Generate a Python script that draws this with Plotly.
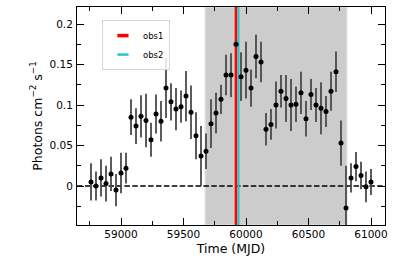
import plotly.graph_objects as go

# ---- data ----
t_start = 58760
bin_days = 40
flux = [0.005, 0.000, 0.010, 0.003, 0.015, -0.005, 0.016, 0.022,
        0.085, 0.074, 0.086, 0.081, 0.057, 0.089, 0.080, 0.121,
        0.104, 0.095, 0.098, 0.111, 0.091, 0.062, 0.037, 0.043,
        0.077, 0.090, 0.107, 0.137, 0.137, 0.175, 0.135, 0.143,
        0.121, 0.160, 0.153, 0.070, 0.076, 0.100, 0.117, 0.108,
        0.100, 0.101, 0.115, 0.083, 0.113, 0.100, 0.096, 0.092,
        0.117, 0.141, 0.053, -0.027, 0.010, 0.024, 0.013, -0.001, 0.005]
flux_err = [0.023, 0.018, 0.023, 0.022, 0.021, 0.020, 0.025, 0.019,
            0.022, 0.022, 0.026, 0.033, 0.021, 0.024, 0.025, 0.037,
            0.023, 0.026, 0.020, 0.031, 0.033, 0.029, 0.037, 0.022,
            0.030, 0.025, 0.018, 0.025, 0.027, 0.030, 0.030, 0.035,
            0.023, 0.027, 0.025, 0.020, 0.019, 0.029, 0.020, 0.029,
            0.032, 0.022, 0.026, 0.022, 0.019, 0.021, 0.032, 0.019,
            0.024, 0.025, 0.028, 0.052, 0.018, 0.018, 0.017, 0.019, 0.016]
mjd = [t_start + bin_days * i for i in range(len(flux))]

span_start, span_end = 59675, 60805
obs_names = ["obs1", "obs2"]
obs_times = [59920, 59940]
obs_colors = ["#ff0000", "#22c8c8"]
obs_widths = [2.6, 2.0]

x_range = [58648, 61112]
y_range = [-0.0481, 0.221]
x_ticks = [59000, 59500, 60000, 60500, 61000]
y_ticks = [0, 0.05, 0.1, 0.15, 0.2]
y_ticklabels = ["0", "0.05", "0.1", "0.15", "0.2"]

FONT = "DejaVu Sans"

fig = go.Figure()

# error bars (drawn first)
fig.add_trace(go.Scatter(
    x=mjd, y=flux, mode="markers",
    marker=dict(size=5, color="rgba(0,0,0,0)"),
    error_y=dict(type="data", array=flux_err, visible=True,
                 color="#4a4a4a", thickness=1.8, width=0),
    showlegend=False, hoverinfo="skip"))

# observation vertical lines
for name, t, c, w in zip(obs_names, obs_times, obs_colors, obs_widths):
    fig.add_trace(go.Scatter(
        x=[t, t], y=y_range, mode="lines",
        line=dict(color=c, width=w), showlegend=False, hoverinfo="skip"))

# data points on top
fig.add_trace(go.Scatter(
    x=mjd, y=flux, mode="markers",
    marker=dict(size=5, color="black"), showlegend=False))

# legend entries
for name, c, w in zip(obs_names, obs_colors, [3.5, 2.5]):
    fig.add_trace(go.Scatter(
        x=[None], y=[None], mode="markers", name=name,
        marker=dict(symbol="line-ew", size=8, color=c,
                    line=dict(color=c, width=w))))

# shaded interval
fig.add_shape(type="rect", xref="x", yref="paper",
              x0=span_start, x1=span_end, y0=0, y1=1,
              fillcolor="#cccccc", line=dict(color="#dcdcdc", width=1.5),
              layer="below")
# zero line
fig.add_shape(type="line", xref="paper", yref="y", x0=0, x1=1, y0=0, y1=0,
              line=dict(color="black", width=1.5, dash="5.5px,2.4px"),
              layer="below")

axis_common = dict(
    showgrid=False, zeroline=False, showline=True, linecolor="black",
    linewidth=1, mirror="ticks", ticks="inside", ticklen=7, tickwidth=1.2,
    tickcolor="black", tickfont=dict(family=FONT, size=10.5, color="black"),
    automargin=True,
)

fig.update_xaxes(
    **axis_common, range=x_range, tickmode="array", tickvals=x_ticks,
    ticktext=[str(v) for v in x_ticks],
    minor=dict(ticks="inside", dtick=250, tick0=0, ticklen=4,
               tickwidth=1.2, tickcolor="black"),
    ticklabelstandoff=-1,
    title=dict(text="Time (MJD)", font=dict(family=FONT, size=12.5,
                                            color="black"), standoff=5))
fig.update_yaxes(
    **axis_common, range=y_range, tickmode="array", tickvals=y_ticks,
    ticktext=y_ticklabels,
    minor=dict(ticks="inside", dtick=0.025, tick0=0, ticklen=4,
               tickwidth=1.2, tickcolor="black"),
    ticklabelstandoff=1,
    title=dict(text="Photons cm<sup>−2</sup> s<sup>−1</sup>",
               font=dict(family=FONT, size=12.5, color="black"), standoff=4))

fig.update_layout(
    width=397, height=264,
    margin=dict(l=77, r=12, t=7, b=39),
    paper_bgcolor="white", plot_bgcolor="white",
    font=dict(family=FONT, color="black"),
    legend=dict(x=0.081, y=0.94, xanchor="left", yanchor="top",
                bgcolor="rgba(255,255,255,0.85)", bordercolor="#d5d5d5",
                borderwidth=1, font=dict(family=FONT, size=8.5),
                itemwidth=30, tracegroupgap=0),
)

fig.write_html("out.html", config={"displayModeBar": False},
               post_script="document.body.style.margin='0px';"
                           "document.body.style.padding='0px';")
